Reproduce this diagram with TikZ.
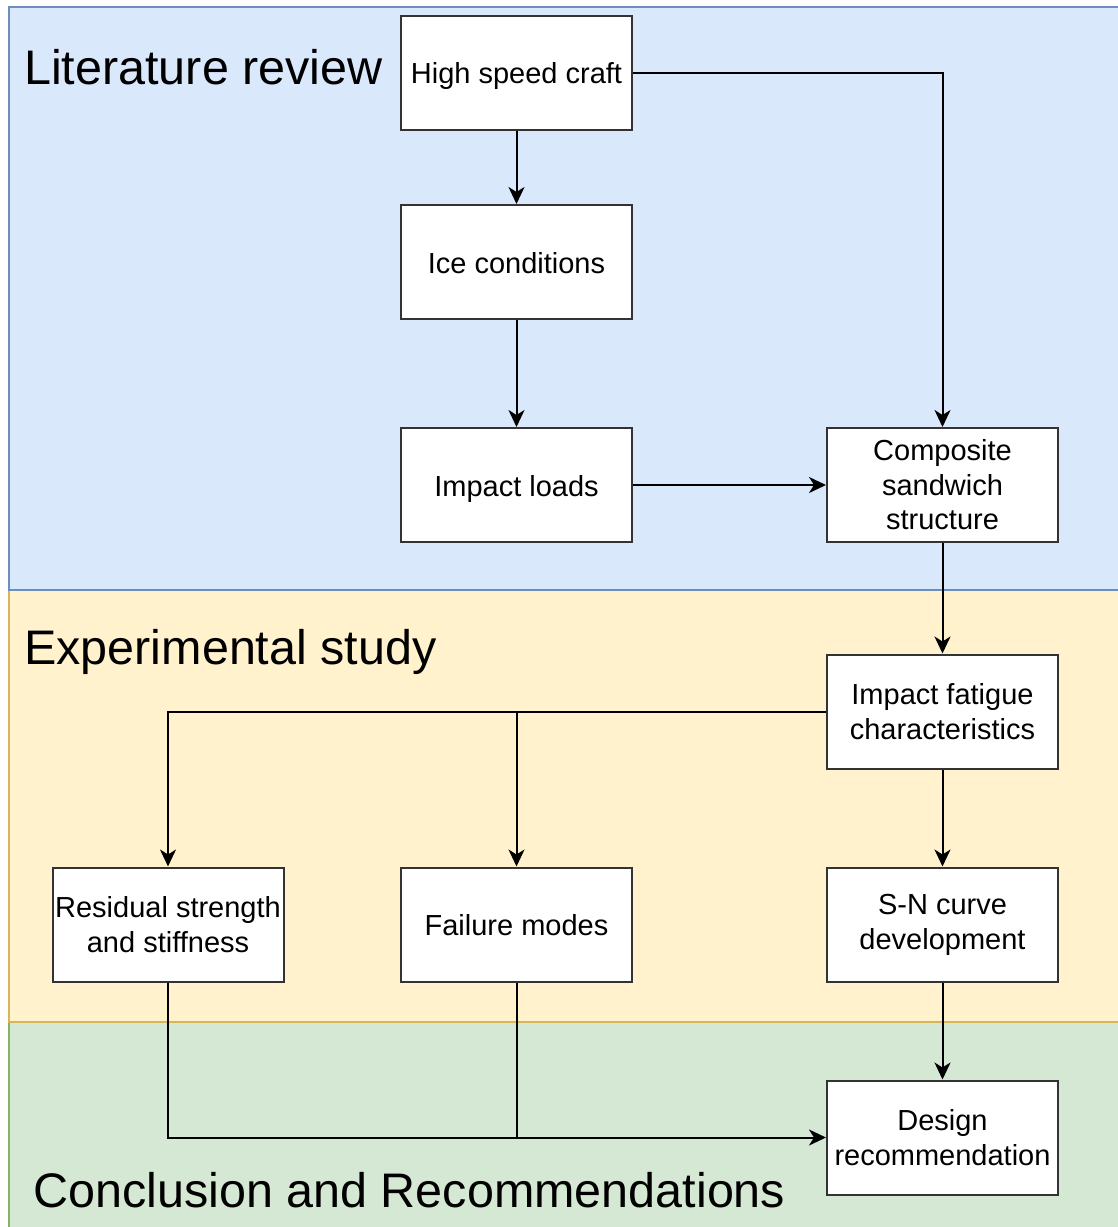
\documentclass[tikz,border=0pt]{standalone}
\usepackage{fontspec}
\setmainfont{Liberation Sans}
\usetikzlibrary{arrows.meta}
\definecolor{bfill}{HTML}{DAE8FC}
\definecolor{bdraw}{HTML}{6C8EBF}
\definecolor{yfill}{HTML}{FFF2CC}
\definecolor{ydraw}{HTML}{D6B656}
\definecolor{gfill}{HTML}{D5E8D4}
\definecolor{gdraw}{HTML}{82B366}
\begin{document}
\begin{tikzpicture}[x=1pt,y=-1pt,
 box/.style={draw=black!80, line width=2pt, fill=white, minimum width=231pt, minimum height=114pt, align=center, font=\fontsize{29}{34.5}\selectfont, inner sep=0pt},
 oneline/.style={text height=26pt, text depth=4pt},
 arr/.style={line width=2pt, -{Stealth[length=17pt,width=16pt,inset=5pt]}},
 ln/.style={line width=2pt},
 band/.style={line width=1.5pt},
 title/.style={anchor=base west, inner sep=0pt, font=\fontsize{48.5}{56}\selectfont}]
\useasboundingbox (0,0) rectangle (1118,1227);
\fill[white] (0,0) rectangle (1118,1227);
\draw[band, draw=gdraw, fill=gfill] (9,1022) rectangle (1130,1240);
\draw[band, draw=ydraw, fill=yfill] (9,590) rectangle (1130,1022);
\draw[band, draw=bdraw, fill=bfill] (9,7) rectangle (1130,590);

\node[title] (t1) at (24,84) {Literature review};
\node[title] (t2) at (24,664) {Experimental study};
\node[title] (t3) at (33,1207) {Conclusion and Recommendations};

\node[box, oneline] (hsc) at (516.5,72.5) {High speed craft};
\node[box, oneline] (ice) at (516.5,262) {Ice conditions};
\node[box, oneline] (imp) at (516.5,485) {Impact loads};
\node[box] (comp) at (942.5,485) {Composite\\sandwich\\structure};
\node[box] (fat) at (942.5,711.5) {Impact fatigue\\characteristics};
\node[box] (res) at (168,924.5) {Residual strength\\and stiffness};
\node[box, oneline] (fail) at (516.5,924.5) {Failure modes};
\node[box] (sn) at (942.5,924.5) {\vphantom{Rd}S-N curve\\development};
\node[box] (des) at (942.5,1137.5) {Design\\recommendation};

\coordinate (j1) at (fat.west -| fail.north);
\coordinate (j2) at (fail.south |- des.west);

\draw[arr] (hsc.east) -| (comp.north);
\draw[arr] (hsc.south) -- (ice.north);
\draw[arr] (ice.south) -- (imp.north);
\draw[arr] (imp.east) -- (comp.west);
\draw[arr] (comp.south) -- (fat.north);
\draw[arr] (fat.west) -| (res.north);
\draw[arr] (j1) -- (fail.north);
\draw[arr] (fat.south) -- (sn.north);
\draw[arr] (sn.south) -- (des.north);
\draw[arr] (res.south) |- (des.west);
\draw[ln] (fail.south) -- (j2);
\end{tikzpicture}
\end{document}
